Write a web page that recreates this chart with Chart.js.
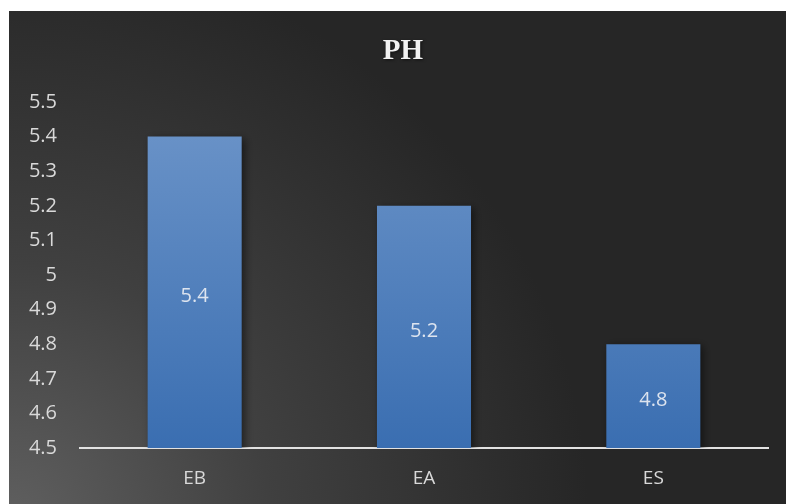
<!DOCTYPE html>
<html>
<head>
<meta charset="utf-8">
<script src="https://cdn.jsdelivr.net/npm/chart.js@4"></script>
<style>
  html, body { margin: 0; padding: 0; background: #ffffff; }
  #wrap { position: absolute; left: 9px; top: 11px; width: 777px; height: 493px; }
</style>
</head>
<body>
<div id="wrap"><canvas id="phChart"></canvas></div>
<script>
// pH per sample
const categories = ['EB', 'EA', 'ES'];
const phValues = [5.4, 5.2, 4.8];
const yTicks = [4.5, 4.6, 4.7, 4.8, 4.9, 5, 5.1, 5.2, 5.3, 5.4, 5.5];
const yMin = 4.5;
const yMax = 5.5;
const chartTitle = 'PH';

const labelFont = '"Open Sans", "Noto Sans", sans-serif';

// dark panel with a soft light spot in the lower left corner
const panelBackground = {
  id: 'panelBackground',
  beforeDraw(chart) {
    const { ctx, width, height } = chart;
    const g = ctx.createRadialGradient(0, height + 20, 0, 0, height + 20, 580);
    g.addColorStop(0, '#606060');
    g.addColorStop(0.45, '#404040');
    g.addColorStop(1, '#262626');
    ctx.save();
    ctx.fillStyle = g;
    ctx.fillRect(0, 0, width, height);
    ctx.restore();
  }
};

// drop shadow under the bars, value labels in the middle of each bar, title
const barExtras = {
  id: 'barExtras',
  beforeDatasetsDraw(chart) {
    const ctx = chart.ctx;
    ctx.save();
    ctx.shadowColor = 'rgba(0,0,0,0.5)';
    ctx.shadowBlur = 8;
    ctx.shadowOffsetX = 3;
    ctx.shadowOffsetY = 2;
  },
  afterDatasetsDraw(chart) {
    chart.ctx.restore();
  },
  afterDraw(chart) {
    const ctx = chart.ctx;
    const xs = chart.scales.x;
    const ys = chart.scales.y;
    ctx.save();
    ctx.font = '20px ' + labelFont;
    ctx.fillStyle = '#dde4ef';
    ctx.textAlign = 'center';
    ctx.textBaseline = 'middle';
    phValues.forEach((v, i) => {
      const x = xs.getPixelForValue(i);
      const y = ys.getPixelForValue((v + yMin) / 2);
      ctx.fillText(String(v), x, y + 4);
    });

    ctx.font = 'bold 29px "Liberation Serif", "DejaVu Serif", serif';
    ctx.shadowColor = 'rgba(0,0,0,0.6)';
    ctx.shadowBlur = 3;
    ctx.shadowOffsetX = 1;
    ctx.shadowOffsetY = 1;
    ctx.fillStyle = '#f2f2f2';
    ctx.fillText(chartTitle, 394, 41);
    ctx.restore();
  }
};

new Chart(document.getElementById('phChart'), {
  type: 'bar',
  data: {
    labels: categories,
    datasets: [{
      label: chartTitle,
      data: phValues,
      backgroundColor(c) {
        const area = c.chart.chartArea;
        if (!area) return '#4f7fbd';
        const g = c.chart.ctx.createLinearGradient(0, area.top, 0, area.bottom);
        g.addColorStop(0, '#6d95c9');
        g.addColorStop(1, '#3a6eb1');
        return g;
      },
      borderWidth: 0,
      categoryPercentage: 1,
      barPercentage: 0.41
    }]
  },
  options: {
    responsive: true,
    maintainAspectRatio: false,
    animation: false,
    layout: { padding: { top: 91, right: 18, left: 0, bottom: 0 } },
    plugins: {
      legend: { display: false },
      title: { display: false },
      tooltip: { enabled: false }
    },
    scales: {
      x: {
        grid: { display: false, drawTicks: false },
        border: { display: true, color: '#e2e2e2', width: 2 },
        ticks: {
          color: '#d9d9d9',
          font: { family: labelFont, size: 19 },
          padding: 19
        },
        afterFit(scale) { scale.height = 56; }
      },
      y: {
        min: yMin,
        max: yMax,
        grid: { display: false, drawTicks: false },
        border: { display: false },
        afterBuildTicks(scale) { scale.ticks = yTicks.map(v => ({ value: v })); },
        ticks: {
          color: '#d9d9d9',
          font: { family: labelFont, size: 20 },
          padding: 23,
          callback: v => String(Number(v.toFixed(1)))
        },
        afterFit(scale) { scale.width = 71; }
      }
    }
  },
  plugins: [panelBackground, barExtras]
});
</script>
</body>
</html>
